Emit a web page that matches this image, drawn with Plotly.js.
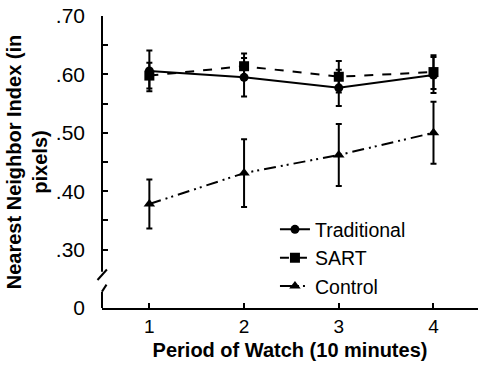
<!DOCTYPE html>
<html><head><meta charset="utf-8">
<script src="https://cdn.plot.ly/plotly-3.0.1.min.js"></script>
<style>html,body{margin:0;padding:0;background:#fff;}#chart{width:478px;height:366px;}</style>
</head><body><div id="chart"></div>
<script>
const periods = [1, 2, 3, 4];
const traditional = [0.606, 0.595, 0.577, 0.599];
const traditionalErr = [0.035, 0.033, 0.031, 0.031];
const sart = [0.598, 0.614, 0.596, 0.604];
const sartErr = [0.022, 0.022, 0.027, 0.029];
const control = [0.378, 0.431, 0.462, 0.500];
const controlErr = [0.042, 0.058, 0.053, 0.053];
const yTickVals = [0.2, 0.3, 0.35, 0.4, 0.45, 0.5, 0.55, 0.6, 0.65, 0.7];
const yTickText = ["0", ".30", "", ".40", "", ".50", "", ".60", "", ".70"];
const xTickText = ["1", "2", "3", "4"];

const FONT = "Liberation Sans, Arial, sans-serif";
const ink = "#000";

function trace(name, y, err, symbol, dash, size) {
  return {
    x: periods, y: y, name: name, type: "scatter", mode: "lines+markers",
    line: {color: ink, width: 2, dash: dash},
    marker: {symbol: symbol, size: size, color: ink},
    error_y: {type: "data", array: err, visible: true, color: ink, thickness: 2, width: 3}
  };
}

const data = [
  trace("Traditional", traditional, traditionalErr, "circle", "solid", 9),
  trace("SART", sart, sartErr, "square", "dash", 10),
  trace("Control", control, controlErr, "triangle-up", "12px,5px,2px,4px,2px,5px", 10)
];

const layout = {
  width: 478, height: 366,
  margin: {l: 102, r: 0, t: 16, b: 58},
  paper_bgcolor: "#fff", plot_bgcolor: "#fff",
  font: {family: FONT, color: ink, size: 19},
  showlegend: true,
  legend: {x: 0.46, y: 0.335, xanchor: "left", yanchor: "top", bgcolor: "rgba(0,0,0,0)",
           font: {family: FONT, size: 19.5, color: ink}, itemwidth: 30},
  xaxis: {
    range: [0.5, 4.47], tickvals: periods, ticktext: xTickText,
    ticks: "inside", ticklen: 5, tickwidth: 2, tickcolor: ink,
    showline: true, linewidth: 2, linecolor: ink, showgrid: false, zeroline: false,
    tickfont: {family: FONT, size: 19, color: ink},
    title: {text: "<b>Period of Watch (10 minutes)</b>", font: {family: FONT, size: 20, color: ink}, standoff: 7}
  },
  yaxis: {
    range: [0.2, 0.7], tickvals: yTickVals, ticktext: yTickText,
    ticks: "inside", ticklen: 6, tickwidth: 2, tickcolor: ink,
    ticklabelstandoff: 16,
    showline: false, showgrid: false, zeroline: false,
    tickfont: {family: FONT, size: 21, color: ink},
    title: {text: "<b>Nearest Neighbor Index (in<br>pixels)</b>", font: {family: FONT, size: 20, color: ink}, standoff: 2}
  },
  shapes: [
    {type: "line", xref: "paper", yref: "y", x0: 0, x1: 0, y0: 0.7, y1: 0.262, line: {color: ink, width: 2}},
    {type: "line", xref: "paper", yref: "y", x0: -0.012, x1: 0.013, y0: 0.248, y1: 0.266, line: {color: ink, width: 2}},
    {type: "line", xref: "paper", yref: "y", x0: 0, x1: 0, y0: 0.2, y1: 0.228, line: {color: ink, width: 2}},
    {type: "line", xref: "paper", yref: "y", x0: 0, x1: 0.012, y0: 0.228, y1: 0.24, line: {color: ink, width: 2}}
  ]
};

Plotly.newPlot("chart", data, layout, {displayModeBar: false, staticPlot: true});
</script></body></html>
